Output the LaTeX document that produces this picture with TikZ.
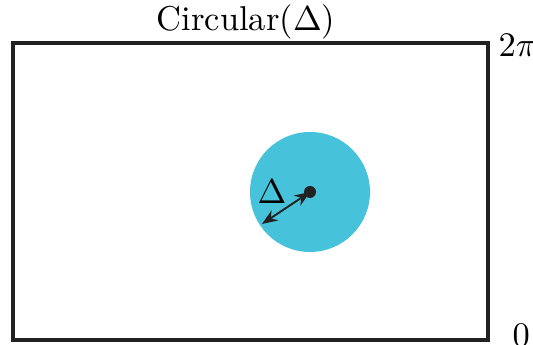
\documentclass[tikz,border=0pt]{standalone}
\usetikzlibrary{arrows.meta,positioning}
\definecolor{Ink}{HTML}{222222}
\definecolor{Disc}{HTML}{46C3DB}

\begin{document}
\begin{tikzpicture}[
      x=0.29pt,y=-0.29pt,
      frame/.style={draw=Ink,line width=0.9pt},
      tag/.style={inner sep=0pt,font=\normalsize},
      arrow/.style={{Stealth[length=4.5pt,width=3.5pt]}-{Stealth[length=4.5pt,width=3.5pt]},line width=0.55pt,color=Ink}
    ]
      \useasboundingbox (0,0) rectangle (533,345);
      \draw[frame] (13,43) rectangle (488,340);
      \node[tag] (title) at (246,22) {Circular($\Delta$)};
      \node[tag,anchor=west] (top) at (498,45) {$2\pi$};
      \node[tag,anchor=west] (bottom) at (512,335) {$0$};
      % the disc and its radius
      \fill[Disc] (310,192) circle (60);
      \fill[Ink] (310,192) circle (6) coordinate (centre);
      \coordinate (rim) at (262,224);
      \draw[arrow] (rim) -- (centre);
      \node[tag] (delta) at (272,192) {$\Delta$};
    \end{tikzpicture}
\end{document}
